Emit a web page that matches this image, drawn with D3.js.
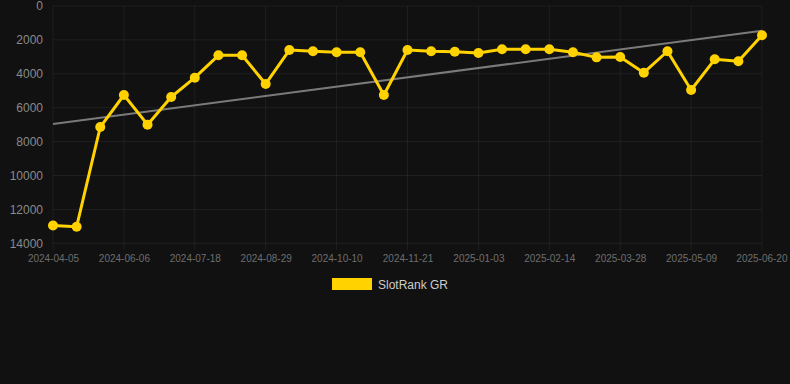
<html>
  <head>
    <script src="https://d3js.org/d3.v7.min.js"></script>
    <style>
      html, body { margin: 0; padding: 0; background: #111111; overflow: hidden; }
      svg { display: block; }
      .grid line { stroke: rgba(255,255,255,0.06); }
      .y-axis text { fill: #8a8a8a; font-size: 12px; }
      .x-axis text { fill: #6e6e6e; font-size: 10px; }
    </style>
  </head>
  <body style="font-family:Arial, 'Liberation Sans', sans-serif">
    <svg id="chart" width="790" height="384"></svg>
    <script type="text/javascript">
      // dates of each sample (category axis, every 3rd one labelled)
      var dates = [
        '2024-04-05', '2024-05-09', '2024-05-23', '2024-06-06', '2024-06-20', '2024-07-04',
        '2024-07-18', '2024-08-01', '2024-08-15', '2024-08-29', '2024-09-12', '2024-09-26',
        '2024-10-10', '2024-10-24', '2024-11-07', '2024-11-21', '2024-12-05', '2024-12-20',
        '2025-01-03', '2025-01-17', '2025-01-31', '2025-02-14', '2025-02-28', '2025-03-14',
        '2025-03-28', '2025-04-11', '2025-04-25', '2025-05-09', '2025-05-23', '2025-06-06',
        '2025-06-20'
      ];
      var ranks = [
        12950, 13020, 7140, 5250, 7000, 5370, 4230, 2910, 2910, 4600, 2600,
        2670, 2730, 2730, 5250, 2600, 2670, 2700, 2770, 2550, 2550, 2550,
        2730, 3030, 3010, 3935, 2670, 4955, 3145, 3260, 1730
      ];
      // trend line values at first and last date
      var trendValues = [6960, 1460];
      var yTicks = [0, 2000, 4000, 6000, 8000, 10000, 12000, 14000];
      var seriesName = 'SlotRank GR';

      var font = "Arial, 'Liberation Sans', sans-serif";
      var svg = d3.select('#chart');
      svg.append('rect').attr('width', 790).attr('height', 384).attr('fill', '#111111');

      var x = d3.scalePoint().domain(dates).range([53, 762]);
      var y = d3.scaleLinear().domain([0, 14000]).range([6, 243.3]);

      var xTicks = dates.filter(function(d, i) { return i % 3 === 0; });

      // grid
      var grid = svg.append('g').attr('class', 'grid');
      grid.selectAll('.h').data(yTicks).enter().append('line')
        .attr('x1', 53).attr('x2', 762)
        .attr('y1', function(d) { return y(d); }).attr('y2', function(d) { return y(d); });
      grid.selectAll('.v').data(xTicks).enter().append('line')
        .attr('x1', function(d) { return x(d); }).attr('x2', function(d) { return x(d); })
        .attr('y1', 6).attr('y2', 250);

      // axes
      var yAxis = d3.axisLeft(y).tickValues(yTicks).tickSize(0).tickPadding(0).tickFormat(d3.format('d'));
      svg.append('g').attr('class', 'y-axis').attr('transform', 'translate(43,0)').call(yAxis)
        .call(function(g) { g.select('.domain').remove(); })
        .selectAll('text').attr('font-family', font);

      var xAxis = d3.axisBottom(x).tickValues(xTicks).tickSize(0).tickPadding(12);
      var gX = svg.append('g').attr('class', 'x-axis').attr('transform', 'translate(0,243.3)').call(xAxis)
        .call(function(g) { g.select('.domain').remove(); });
      gX.selectAll('text').attr('font-family', font);
      // keep the last label inside the canvas
      gX.selectAll('.tick').filter(function(d) { return d === dates[dates.length - 1]; })
        .select('text').attr('text-anchor', 'end').attr('dx', 25);

      // trend
      var trend = [[dates[0], trendValues[0]], [dates[dates.length - 1], trendValues[1]]];
      svg.append('path')
        .datum(trend)
        .attr('fill', 'none')
        .attr('stroke', '#7a7a7a')
        .attr('stroke-width', 2)
        .attr('d', d3.line().x(function(d) { return x(d[0]); }).y(function(d) { return y(d[1]); }));

      // series
      var line = d3.line()
        .x(function(d, i) { return x(dates[i]); })
        .y(function(d) { return y(d); });

      svg.append('path')
        .datum(ranks)
        .attr('fill', 'none')
        .attr('stroke', '#FFD200')
        .attr('stroke-width', 3)
        .attr('stroke-linejoin', 'round')
        .attr('d', line);

      svg.append('g').selectAll('circle').data(ranks).enter().append('circle')
        .attr('cx', function(d, i) { return x(dates[i]); })
        .attr('cy', function(d) { return y(d); })
        .attr('r', 5)
        .attr('fill', '#FFD200');

      // legend
      var legend = svg.append('g').attr('transform', 'translate(332,278)');
      legend.append('rect').attr('width', 40).attr('height', 12).attr('fill', '#FFD200');
      legend.append('text').attr('x', 46).attr('y', 10.5)
        .attr('fill', '#cccccc').attr('font-size', 12).attr('font-family', font)
        .text(seriesName);
    </script>
  </body>
</html>
